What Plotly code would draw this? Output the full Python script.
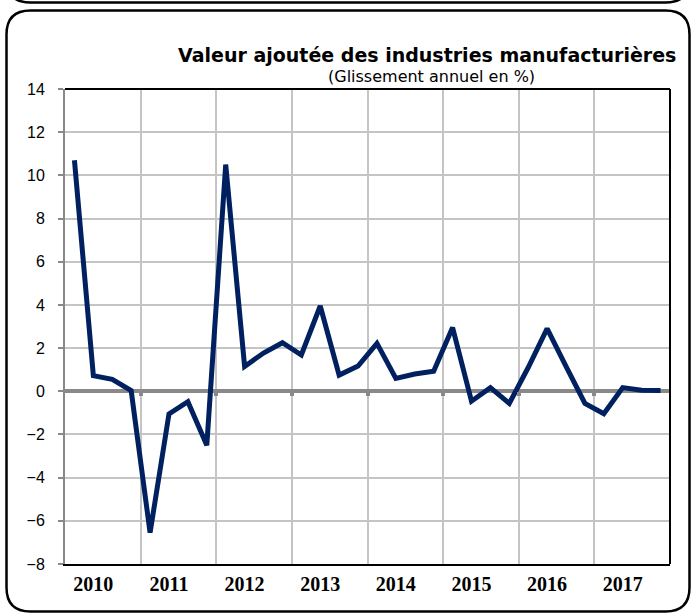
import plotly.graph_objects as go

# Quarterly data, 2010Q1 .. 2017Q4 (Glissement annuel en %)
years = ["2010", "2011", "2012", "2013", "2014", "2015", "2016", "2017"]
valeur_ajoutee = [
    10.7, 0.72, 0.55, 0.03,
    -6.55, -1.05, -0.48, -2.5,
    10.5, 1.15, 1.77, 2.25,
    1.68, 3.95, 0.75, 1.17,
    2.22, 0.6, 0.8, 0.93,
    2.95, -0.46, 0.17, -0.56,
    1.1, 2.9, 1.15, -0.56,
    -1.04, 0.17, 0.05, 0.04,
]
y_ticks = [-8, -6, -4, -2, 0, 2, 4, 6, 8, 10, 12, 14]

W, H = 691, 613
L, R, T, B = 65, 670, 89, 564
n = len(valeur_ajoutee)
x = list(range(n))
year_bounds = [4 * i - 0.5 for i in range(len(years) + 1)]
label_pos = [4 * i + 1 for i in range(len(years))]


def px_x(p):
    return (p - L) / (R - L)


def px_y(p):
    return (B - p) / (B - T)


def rounded_rect(x0, y0, x1, y1, r):
    # path in paper coords from pixel box
    rx = r / (R - L)
    ry = r / (B - T)
    a, b, c, d = px_x(x0), px_y(y0), px_x(x1), px_y(y1)
    return (f"M {a+rx},{b} L {c-rx},{b} Q {c},{b} {c},{b-ry} "
            f"L {c},{d+ry} Q {c},{d} {c-rx},{d} L {a+rx},{d} "
            f"Q {a},{d} {a},{d+ry} L {a},{b-ry} Q {a},{b} {a+rx},{b} Z")


fig = go.Figure()

fig.add_trace(go.Scatter(
    x=x, y=valeur_ajoutee, mode="lines",
    line=dict(color="#002060", width=5),
    hoverinfo="skip", showlegend=False,
))
# dummy trace so the zero-line tick axis is drawn
fig.add_trace(go.Scatter(
    x=[0], y=[0], xaxis="x2", mode="markers",
    marker=dict(opacity=0), hoverinfo="skip", showlegend=False,
))

fig.update_layout(
    width=W, height=H,
    margin=dict(l=L, r=W - R, t=T, b=H - B),
    paper_bgcolor="white", plot_bgcolor="white",
    xaxis=dict(
        range=[-0.5, n - 0.5], tickvals=label_pos, ticktext=years,
        showgrid=False, zeroline=False, ticks="",
        showline=True, linecolor="black", linewidth=2,
        tickfont=dict(family="Liberation Serif", size=20, color="black", weight="bold"),
        ticklabelstandoff=1,
    ),
    xaxis2=dict(
        overlaying="x", anchor="free",
        position=(0 - y_ticks[0]) / (y_ticks[-1] - y_ticks[0]),
        range=[-0.5, n - 0.5], tickvals=year_bounds[1:-1],
        showgrid=True, gridcolor="#c4c4c4", gridwidth=2,
        ticks="outside", ticklen=4, tickwidth=4, tickcolor="#898989",
        showticklabels=False, showline=False, zeroline=False,
    ),
    yaxis=dict(
        range=[y_ticks[0], y_ticks[-1]], tickvals=y_ticks,
        showgrid=True, gridcolor="#c4c4c4", gridwidth=2,
        zeroline=True, zerolinecolor="#898989", zerolinewidth=4,
        showline=True, linecolor="#898989", linewidth=2,
        ticks="outside", ticklen=5, tickwidth=2, tickcolor="#898989",
        tickfont=dict(family="Liberation Sans", size=16, color="black"),
        ticklabelstandoff=10,
    ),
    shapes=[
        dict(type="line", xref="paper", yref="paper", x0=0, x1=1, y0=1, y1=1,
             line=dict(color="black", width=2)),
        dict(type="line", xref="paper", yref="paper", x0=1, x1=1, y0=0, y1=1,
             line=dict(color="black", width=2)),
        dict(type="path", xref="paper", yref="paper",
             path=rounded_rect(6.5, 10.5, 689.5, 611.5, 24),
             line=dict(color="black", width=2.5)),
        dict(type="path", xref="paper", yref="paper",
             path=rounded_rect(6.5, -40, 689.5, 2.5, 24),
             line=dict(color="black", width=2.5)),
    ],
    annotations=[
        dict(text="<b>Valeur ajoutée des industries manufacturières</b>",
             xref="paper", yref="paper", x=px_x(678), y=px_y(55),
             xanchor="right", yanchor="middle", showarrow=False,
             font=dict(family="DejaVu Sans", size=19, color="black")),
        dict(text="(Glissement annuel en %)",
             xref="paper", yref="paper", x=px_x(431), y=px_y(76),
             xanchor="center", yanchor="middle", showarrow=False,
             font=dict(family="DejaVu Sans", size=16, color="black")),
    ],
)

fig.write_html("out.html", config={"displayModeBar": False},
               post_script="document.body.style.margin='0';")
